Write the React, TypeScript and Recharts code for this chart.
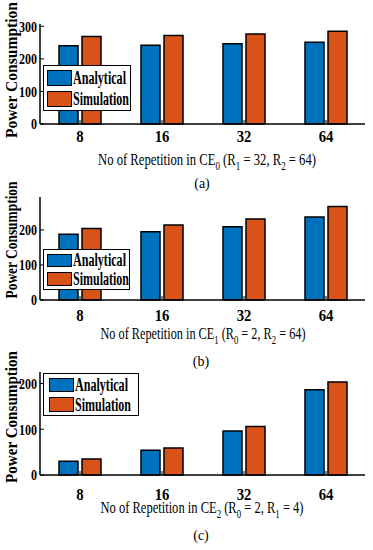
import { BarChart, Bar, XAxis, YAxis, Legend } from 'recharts';

const reps = ['8', '16', '32', '64'];

// (a) repetition in CE0
const analyticalCE0 = [240, 242, 246, 251];
const simulationCE0 = [269, 272, 276, 285];
// (b) repetition in CE1
const analyticalCE1 = [188, 195, 209, 237];
const simulationCE1 = [204, 214, 231, 267];
// (c) repetition in CE2
const analyticalCE2 = [30, 54, 96, 186];
const simulationCE2 = [35, 59, 106, 203];

const yTicksCE0 = [0, 100, 200, 300];
const yTicksCE1 = [0, 100, 200];
const yTicksCE2 = [0, 100, 200];

const seriesNames = ['Analytical', 'Simulation'];

type Part = [string, boolean];
const titleCE0: Part[] = [['No of Repetition in CE', false], ['0', true], [' (R', false], ['1', true], [' = 32, R', false], ['2', true], [' = 64)', false]];
const titleCE1: Part[] = [['No of Repetition in CE', false], ['1', true], [' (R', false], ['0', true], [' = 2, R', false], ['2', true], [' = 64)', false]];
const titleCE2: Part[] = [['No of Repetition in CE', false], ['2', true], [' (R', false], ['0', true], [' = 2, R', false], ['1', true], [' = 4)', false]];

const BLUE = '#0072BD';
const ORANGE = '#D95319';
const FONT = '"Liberation Serif", "Times New Roman", serif';

const makeRows = (a: number[], s: number[]) =>
  reps.map((rep, i) => ({ rep, analytical: a[i], simulation: s[i] }));

const YTick = ({ x, y, payload }: any) => (
  <text transform={`translate(${x},${y}) scale(0.8,1)`} textAnchor="end" dy="0.36em"
    fontFamily={FONT} fontWeight="bold" fontSize={15} fill="#000">{payload.value}</text>
);

const XTick = ({ x, y, payload }: any) => (
  <text transform={`translate(${x},${y}) scale(0.92,1)`} textAnchor="middle" dy="0.71em"
    fontFamily={FONT} fontWeight="bold" fontSize={16} fill="#000">{payload.value}</text>
);

// squeezed widths of the legend labels, as in the figure
const legendTextW: Record<string, number> = { Analytical: 53, Simulation: 56 };

const BoxLegend = ({ payload, w, h, inset }: any) => {
  const rowH = (h - 4) / 2;
  return (
    <div style={{ width: w, height: h, boxSizing: 'border-box', border: '1.5px solid #000', background: '#fff', paddingTop: 1 }}>
      {(payload || []).map((p: any) => (
        <div key={p.value} style={{ height: rowH, display: 'flex', alignItems: 'center' }}>
          <span style={{ width: 25, height: rowH - 5, marginLeft: inset, boxSizing: 'border-box', border: '1.5px solid #000', background: p.color, flex: 'none' }} />
          <svg width={w - inset - 28} height={rowH} style={{ marginLeft: 1, flex: 'none', display: 'block', overflow: 'visible' }}>
            <text x={0} y={rowH / 2 + 6} textLength={legendTextW[p.value] || 53} lengthAdjust="spacingAndGlyphs"
              fontFamily={FONT} fontWeight="bold" fontSize={18} fill="#000">{p.value}</text>
          </svg>
        </div>
      ))}
    </div>
  );
};

const XTitle = ({ parts, x, y, w }: { parts: Part[]; x: number; y: number; w: number }) => {
  let shift = 0;
  return (
    <text x={x} y={y} textAnchor="middle" textLength={w} lengthAdjust="spacingAndGlyphs"
      fontFamily={FONT} fontSize={17} fill="#000" style={{ whiteSpace: 'pre' }}>
      {parts.map(([t, sub], i) => {
        const target = sub ? 5 : 0;
        const dy = target - shift;
        shift = target;
        return <tspan key={i} dy={dy} fontSize={sub ? 12 : 17}>{t}</tspan>;
      })}
    </text>
  );
};

type PanelProps = {
  top: number; height: number; marginTop: number; xAxisHeight: number; tickGap: number;
  rows: any[]; domain: [number, number]; ticks: number[];
  legend: { left: number; top: number; w: number; h: number; inset: number };
  yLabelY: number; yLabelW: number; title: Part[]; titleX: number; titleY: number; titleW: number;
};

const Panel = (p: PanelProps) => (
  <div style={{ position: 'absolute', left: 0, top: p.top, width: 373, height: p.height, overflow: 'hidden' }}>
    <BarChart width={373} height={p.height} data={p.rows} barSize={19} barGap={4}
      margin={{ top: p.marginTop, right: 8, bottom: 0, left: 0 }}>
      <XAxis xAxisId="b" dataKey="rep" height={p.xAxisHeight} padding={{ left: -1, right: -2 }}
        axisLine={{ stroke: '#000', strokeWidth: 1.5 }} tickLine={{ stroke: '#000' }} tickSize={-4}
        tickMargin={p.tickGap} tick={<XTick />} interval={0} />
      <XAxis xAxisId="t" dataKey="rep" orientation="top" height={0} padding={{ left: -1, right: -2 }}
        axisLine={{ stroke: '#000', strokeWidth: 1.5 }} tickLine={{ stroke: '#000' }} tickSize={-4}
        tick={false} interval={0} />
      <YAxis yAxisId="l" width={40} domain={p.domain} ticks={p.ticks} interval={0}
        axisLine={{ stroke: '#000', strokeWidth: 1.5 }} tickLine={{ stroke: '#000' }} tickSize={-4}
        tickMargin={7} tick={<YTick />} />
      <YAxis yAxisId="r" orientation="right" width={0} domain={p.domain} ticks={p.ticks} interval={0}
        axisLine={{ stroke: '#000', strokeWidth: 1.5 }} tickLine={{ stroke: '#000' }} tickSize={-4}
        tick={false} />
      <Legend layout="vertical" align="center" verticalAlign="middle"
        wrapperStyle={{ left: p.legend.left, top: p.legend.top, width: p.legend.w, height: p.legend.h }}
        content={(props: any) => <BoxLegend payload={props.payload} w={p.legend.w} h={p.legend.h} inset={p.legend.inset} />} />
      <Bar xAxisId="b" yAxisId="l" dataKey="analytical" name={seriesNames[0]} fill={BLUE}
        stroke="#000" strokeWidth={1.5} isAnimationActive={false} />
      <Bar xAxisId="b" yAxisId="l" dataKey="simulation" name={seriesNames[1]} fill={ORANGE}
        stroke="#000" strokeWidth={1.5} isAnimationActive={false} />
    </BarChart>
    <svg width={373} height={p.height} style={{ position: 'absolute', left: 0, top: 0, pointerEvents: 'none' }}>
      <text transform={`translate(17,${p.yLabelY}) rotate(-90)`} textAnchor="middle" textLength={p.yLabelW}
        lengthAdjust="spacingAndGlyphs" fontFamily={FONT} fontWeight="bold" fontSize={16} fill="#000">
        Power Consumption
      </text>
      <XTitle parts={p.title} x={p.titleX} y={p.titleY} w={p.titleW} />
    </svg>
  </div>
);

export default function App() {
  return (
    <div style={{ position: 'absolute', left: 0, top: 0, width: 373, height: 550, background: '#fff', overflow: 'hidden' }}>
      <Panel top={0} height={180} marginTop={24} xAxisHeight={56} tickGap={11}
        rows={makeRows(analyticalCE0, simulationCE0)} domain={[0, 307]} ticks={yTicksCE0}
        legend={{ left: 43, top: 65, w: 88, h: 46, inset: 3 }}
        yLabelY={70} yLabelW={136} title={titleCE0} titleX={207} titleY={165} titleW={218} />
      <Panel top={180} height={170} marginTop={17} xAxisHeight={50} tickGap={14}
        rows={makeRows(analyticalCE1, simulationCE1)} domain={[0, 294]} ticks={yTicksCE1}
        legend={{ left: 43, top: 69, w: 87, h: 41, inset: 3 }}
        yLabelY={60} yLabelW={117} title={titleCE1} titleX={203} titleY={159} titleW={205} />
      <Panel top={350} height={200} marginTop={22} xAxisHeight={75} tickGap={18}
        rows={makeRows(analyticalCE2, simulationCE2)} domain={[0, 225]} ticks={yTicksCE2}
        legend={{ left: 43, top: 23, w: 96, h: 43, inset: 5 }}
        yLabelY={67} yLabelW={132} title={titleCE2} titleX={202} titleY={163} titleW={203} />
      <svg width={373} height={550} style={{ position: 'absolute', left: 0, top: 0, pointerEvents: 'none' }}>
        <text x={202} y={188} textAnchor="middle" fontFamily={FONT} fontSize={14} fill="#000">(a)</text>
        <text x={201} y={366} textAnchor="middle" fontFamily={FONT} fontSize={14} fill="#000">(b)</text>
        <text x={201} y={540} textAnchor="middle" fontFamily={FONT} fontSize={14} fill="#000">(c)</text>
      </svg>
    </div>
  );
}
